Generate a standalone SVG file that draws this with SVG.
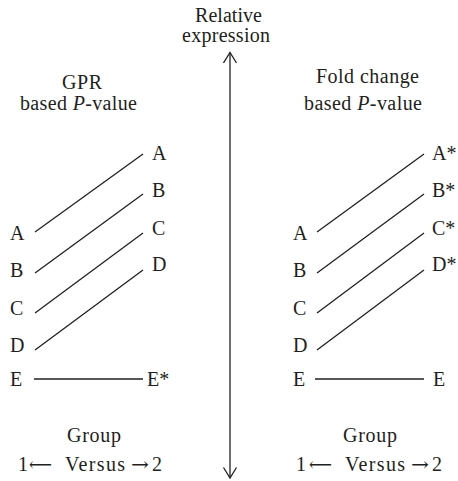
<svg xmlns="http://www.w3.org/2000/svg" width="458" height="481" viewBox="0 0 458 481">
<style>
text{font-size:20px;fill:#231f20}
.it{font-style:italic}
.ln{stroke:#231f20;stroke-width:1.3;fill:none}
</style>
<defs>
<marker id="oa" markerUnits="userSpaceOnUse" markerWidth="16" markerHeight="16" viewBox="-1 -1 14 16" refX="10.5" refY="6.5" orient="auto-start-reverse">
<path d="M0,0 L10.5,6.5 L0,13" fill="none" stroke="#231f20" stroke-width="1.3"/>
</marker>
</defs>
<rect width="458" height="481" fill="#ffffff"/>
<g font-family="Liberation Serif, Times New Roman, DejaVu Serif, serif">
<g id="axis-title">
<text x="195" y="21.5" textLength="67">Relative</text>
<text x="182" y="41.5" textLength="88">expression</text>
</g>

<g id="title-left">
<text x="62" y="88.5" textLength="40">GPR</text>
<text x="20" y="110" textLength="117">based <tspan class="it">P</tspan>-value</text>
</g>
<g id="title-right">
<text x="316" y="83" textLength="103">Fold change</text>
<text x="304" y="110" textLength="118">based <tspan class="it">P</tspan>-value</text>
</g>

<g id="left-group1">
<text x="10" y="240">A</text>
<text x="10" y="277">B</text>
<text x="10" y="315">C</text>
<text x="10" y="352">D</text>
<text x="10" y="386">E</text>
</g>
<g id="left-group2">
<text x="152" y="160">A</text>
<text x="152" y="197">B</text>
<text x="152" y="235">C</text>
<text x="152" y="271">D</text>
<text x="147" y="386">E*</text>
</g>
<g id="right-group1">
<text x="293" y="240">A</text>
<text x="293" y="277">B</text>
<text x="293" y="315">C</text>
<text x="293" y="352">D</text>
<text x="293" y="386">E</text>
</g>
<g id="right-group2">
<text x="432" y="160">A*</text>
<text x="432" y="197">B*</text>
<text x="432" y="235">C*</text>
<text x="432" y="271">D*</text>
<text x="433" y="386">E</text>
</g>

<g id="footer-left">
<text x="67" y="442" textLength="54">Group</text>
<text x="18" y="471">1</text>
<text font-family="DejaVu Serif, DejaVu Sans, serif" x="29" y="471" textLength="23" lengthAdjust="spacingAndGlyphs">⟵</text>
<text x="65" y="471" textLength="60">Versus</text>
<text font-family="DejaVu Serif, DejaVu Sans, serif" x="131" y="471" textLength="18" lengthAdjust="spacingAndGlyphs">→</text>
<text x="152" y="471">2</text>
</g>
<g id="footer-right">
<text x="343" y="442" textLength="54">Group</text>
<text x="296" y="471">1</text>
<text font-family="DejaVu Serif, DejaVu Sans, serif" x="309" y="471" textLength="23" lengthAdjust="spacingAndGlyphs">⟵</text>
<text x="345" y="471" textLength="60">Versus</text>
<text font-family="DejaVu Serif, DejaVu Sans, serif" x="411" y="471" textLength="18" lengthAdjust="spacingAndGlyphs">→</text>
<text x="432" y="471">2</text>
</g>
</g>
<g id="connectors">
<line class="ln" x1="230" y1="265" x2="230" y2="52.5" marker-end="url(#oa)"/>
<line class="ln" x1="230" y1="265" x2="230" y2="478" marker-end="url(#oa)"/>
<line class="ln" x1="35" y1="232" x2="143" y2="154"/>
<line class="ln" x1="35" y1="273" x2="143" y2="194"/>
<line class="ln" x1="35" y1="313" x2="143" y2="233"/>
<line class="ln" x1="35" y1="350" x2="143" y2="270"/>
<line class="ln" x1="34" y1="379" x2="143" y2="379"/>
<line class="ln" x1="317" y1="232" x2="424" y2="154"/>
<line class="ln" x1="317" y1="273" x2="424" y2="194"/>
<line class="ln" x1="317" y1="313" x2="424" y2="233"/>
<line class="ln" x1="317" y1="350" x2="424" y2="270"/>
<line class="ln" x1="315" y1="379" x2="424" y2="379"/>
</g>
</svg>
